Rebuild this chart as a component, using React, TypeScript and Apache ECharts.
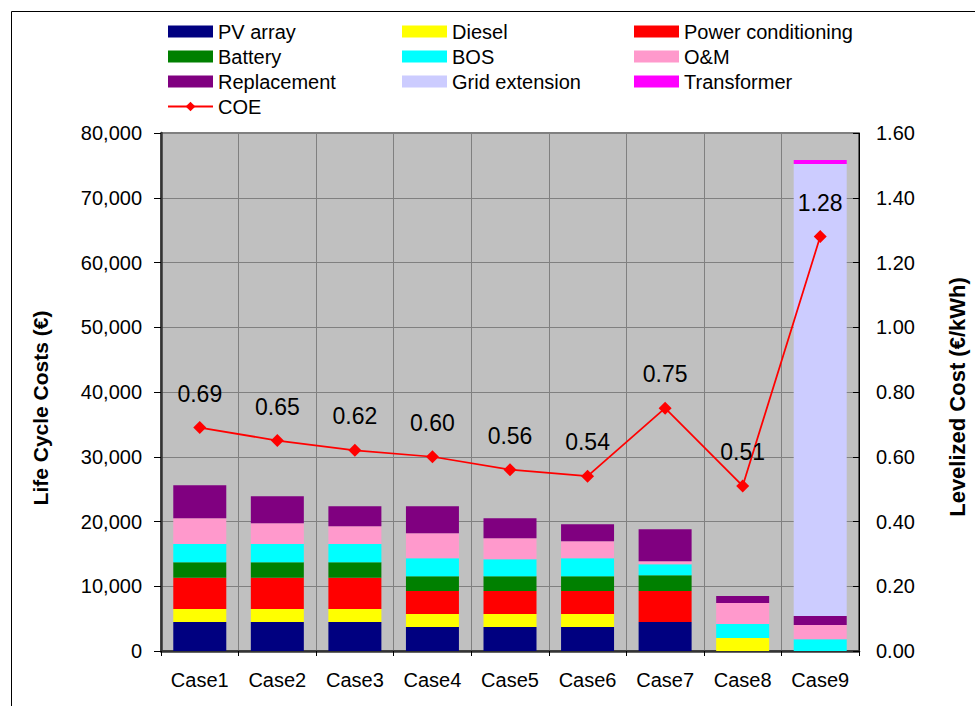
import React, { useEffect, useRef } from "react";
import * as echarts from "echarts";

const categories = ["Case1", "Case2", "Case3", "Case4", "Case5", "Case6", "Case7", "Case8", "Case9"];
const pvArray = [4470, 4470, 4470, 3700, 3700, 3700, 4470, 0, 0];
const diesel = [2000, 2000, 2000, 2000, 2000, 2000, 0, 2000, 0];
const powerConditioning = [4830, 4830, 4830, 3550, 3550, 3550, 4780, 0, 0];
const battery = [2420, 2420, 2420, 2310, 2310, 2310, 2460, 0, 0];
const bos = [2820, 2820, 2820, 2780, 2620, 2780, 1700, 2160, 1800];
const om = [3960, 3190, 2730, 3850, 3240, 2620, 460, 3240, 2210];
const replacement = [5090, 4160, 3080, 4160, 3080, 2620, 4940, 1080, 1390];
const gridExtension = [0, 0, 0, 0, 0, 0, 0, 0, 69820];
const transformer = [0, 0, 0, 0, 0, 0, 0, 0, 620];
const coe = [0.69, 0.65, 0.62, 0.6, 0.56, 0.54, 0.75, 0.51, 1.28];

const FONT = "'Liberation Sans', Arial, sans-serif";

const barSeries = [
  { name: "PV array", data: pvArray, color: "#000080" },
  { name: "Diesel", data: diesel, color: "#FFFF00" },
  { name: "Power conditioning", data: powerConditioning, color: "#FF0000" },
  { name: "Battery", data: battery, color: "#008000" },
  { name: "BOS", data: bos, color: "#00FFFF" },
  { name: "O&M", data: om, color: "#FF99CC" },
  { name: "Replacement", data: replacement, color: "#800080" },
  { name: "Grid extension", data: gridExtension, color: "#CCCCFF" },
  { name: "Transformer", data: transformer, color: "#FF00FF" },
];

const legendColumns = [
  { left: 167, items: ["PV array", "Battery", "Replacement", "COE"] },
  { left: 402, items: ["Diesel", "BOS", "Grid extension"] },
  { left: 634, items: ["Power conditioning", "O&M", "Transformer"] },
];

export default function App() {
  const ref = useRef<HTMLDivElement>(null);
  useEffect(() => {
    if (!ref.current) return;
    const chart = echarts.init(ref.current, null, { renderer: "svg" });
    const option: any = {
      animation: false,
      textStyle: { fontFamily: FONT },
      grid: {
        left: 161,
        right: 116,
        top: 133,
        bottom: 55,
        show: true,
        backgroundColor: "#C0C0C0",
        borderColor: "#000",
        borderWidth: 1,
      },
      legend: legendColumns.map((col) => ({
        left: col.left,
        top: 19,
        padding: 0,
        orient: "vertical",
        itemWidth: 45,
        itemHeight: 12,
        itemGap: 0,
        selectedMode: false,
        textStyle: { fontSize: 20, lineHeight: 25, color: "#000", fontFamily: FONT },
        data: col.items.map((n) => (n === "COE" ? { name: n } : { name: n, icon: "rect" })),
      })),
      xAxis: {
        type: "category",
        data: categories,
        axisLine: { show: true, lineStyle: { color: "#333", width: 2.5 } },
        axisTick: { show: true, length: 5, lineStyle: { color: "#000" } },
        axisLabel: { fontSize: 20, color: "#000", margin: 19, fontFamily: FONT },
        splitLine: { show: true, lineStyle: { color: "#808080", width: 1 } },
      },
      yAxis: [
        {
          type: "value",
          min: 0,
          max: 80000,
          interval: 10000,
          axisLine: { show: true, lineStyle: { color: "#333", width: 2.5 } },
          axisTick: { show: true, length: 7, lineStyle: { color: "#000" } },
          axisLabel: {
            fontSize: 20,
            color: "#000",
            margin: 19,
            fontFamily: FONT,
            formatter: (v: number) => v.toLocaleString("en-US"),
          },
          splitLine: { show: true, lineStyle: { color: "#808080", width: 1 } },
        },
        {
          type: "value",
          min: 0,
          max: 1.6,
          interval: 0.2,
          position: "right",
          axisLine: { show: true, lineStyle: { color: "#000", width: 1 } },
          axisTick: { show: true, inside: true, length: 6, lineStyle: { color: "#000" } },
          axisLabel: {
            fontSize: 20,
            color: "#000",
            margin: 17,
            fontFamily: FONT,
            formatter: (v: number) => v.toFixed(2),
          },
          splitLine: { show: false },
        },
      ],
      series: [
        ...barSeries.map((s) => ({
          name: s.name,
          type: "bar",
          stack: "total",
          barWidth: 53,
          data: s.data,
          itemStyle: { color: s.color },
          emphasis: { disabled: true },
        })),
        {
          name: "COE",
          type: "line",
          yAxisIndex: 1,
          data: coe,
          symbol: "diamond",
          symbolSize: 13,
          z: 10,
          itemStyle: { color: "#FF0000" },
          lineStyle: { color: "#FF0000", width: 1.75 },
          label: {
            show: true,
            position: "top",
            distance: 16,
            fontSize: 23,
            color: "#000",
            fontFamily: FONT,
            formatter: (p: any) => Number(p.value).toFixed(2),
          },
        },
      ],
      graphic: [
        {
          type: "rect",
          silent: true,
          shape: { x: 11.5, y: 11.5, width: 1100, height: 1100 },
          style: { fill: "none", stroke: "#000", lineWidth: 1 },
        },
        {
          type: "text",
          x: 40,
          y: 408,
          rotation: Math.PI / 2,
          style: {
            text: "Life Cycle Costs (€)",
            font: "bold 21px 'Liberation Sans', Arial, sans-serif",
            fill: "#000",
            align: "center",
            verticalAlign: "middle",
            textAlign: "center",
            textVerticalAlign: "middle",
          },
        },
        {
          type: "text",
          x: 957,
          y: 397,
          rotation: Math.PI / 2,
          style: {
            text: "Levelized Cost (€/kWh)",
            font: "bold 22px 'Liberation Sans', Arial, sans-serif",
            fill: "#000",
            align: "center",
            verticalAlign: "middle",
            textAlign: "center",
            textVerticalAlign: "middle",
          },
        },
      ],
    };
    chart.setOption(option);
    return () => chart.dispose();
  }, []);
  return (
    <div
      ref={ref}
      style={{ position: "absolute", left: 0, top: 0, width: 975, height: 706, background: "#fff" }}
    />
  );
}
